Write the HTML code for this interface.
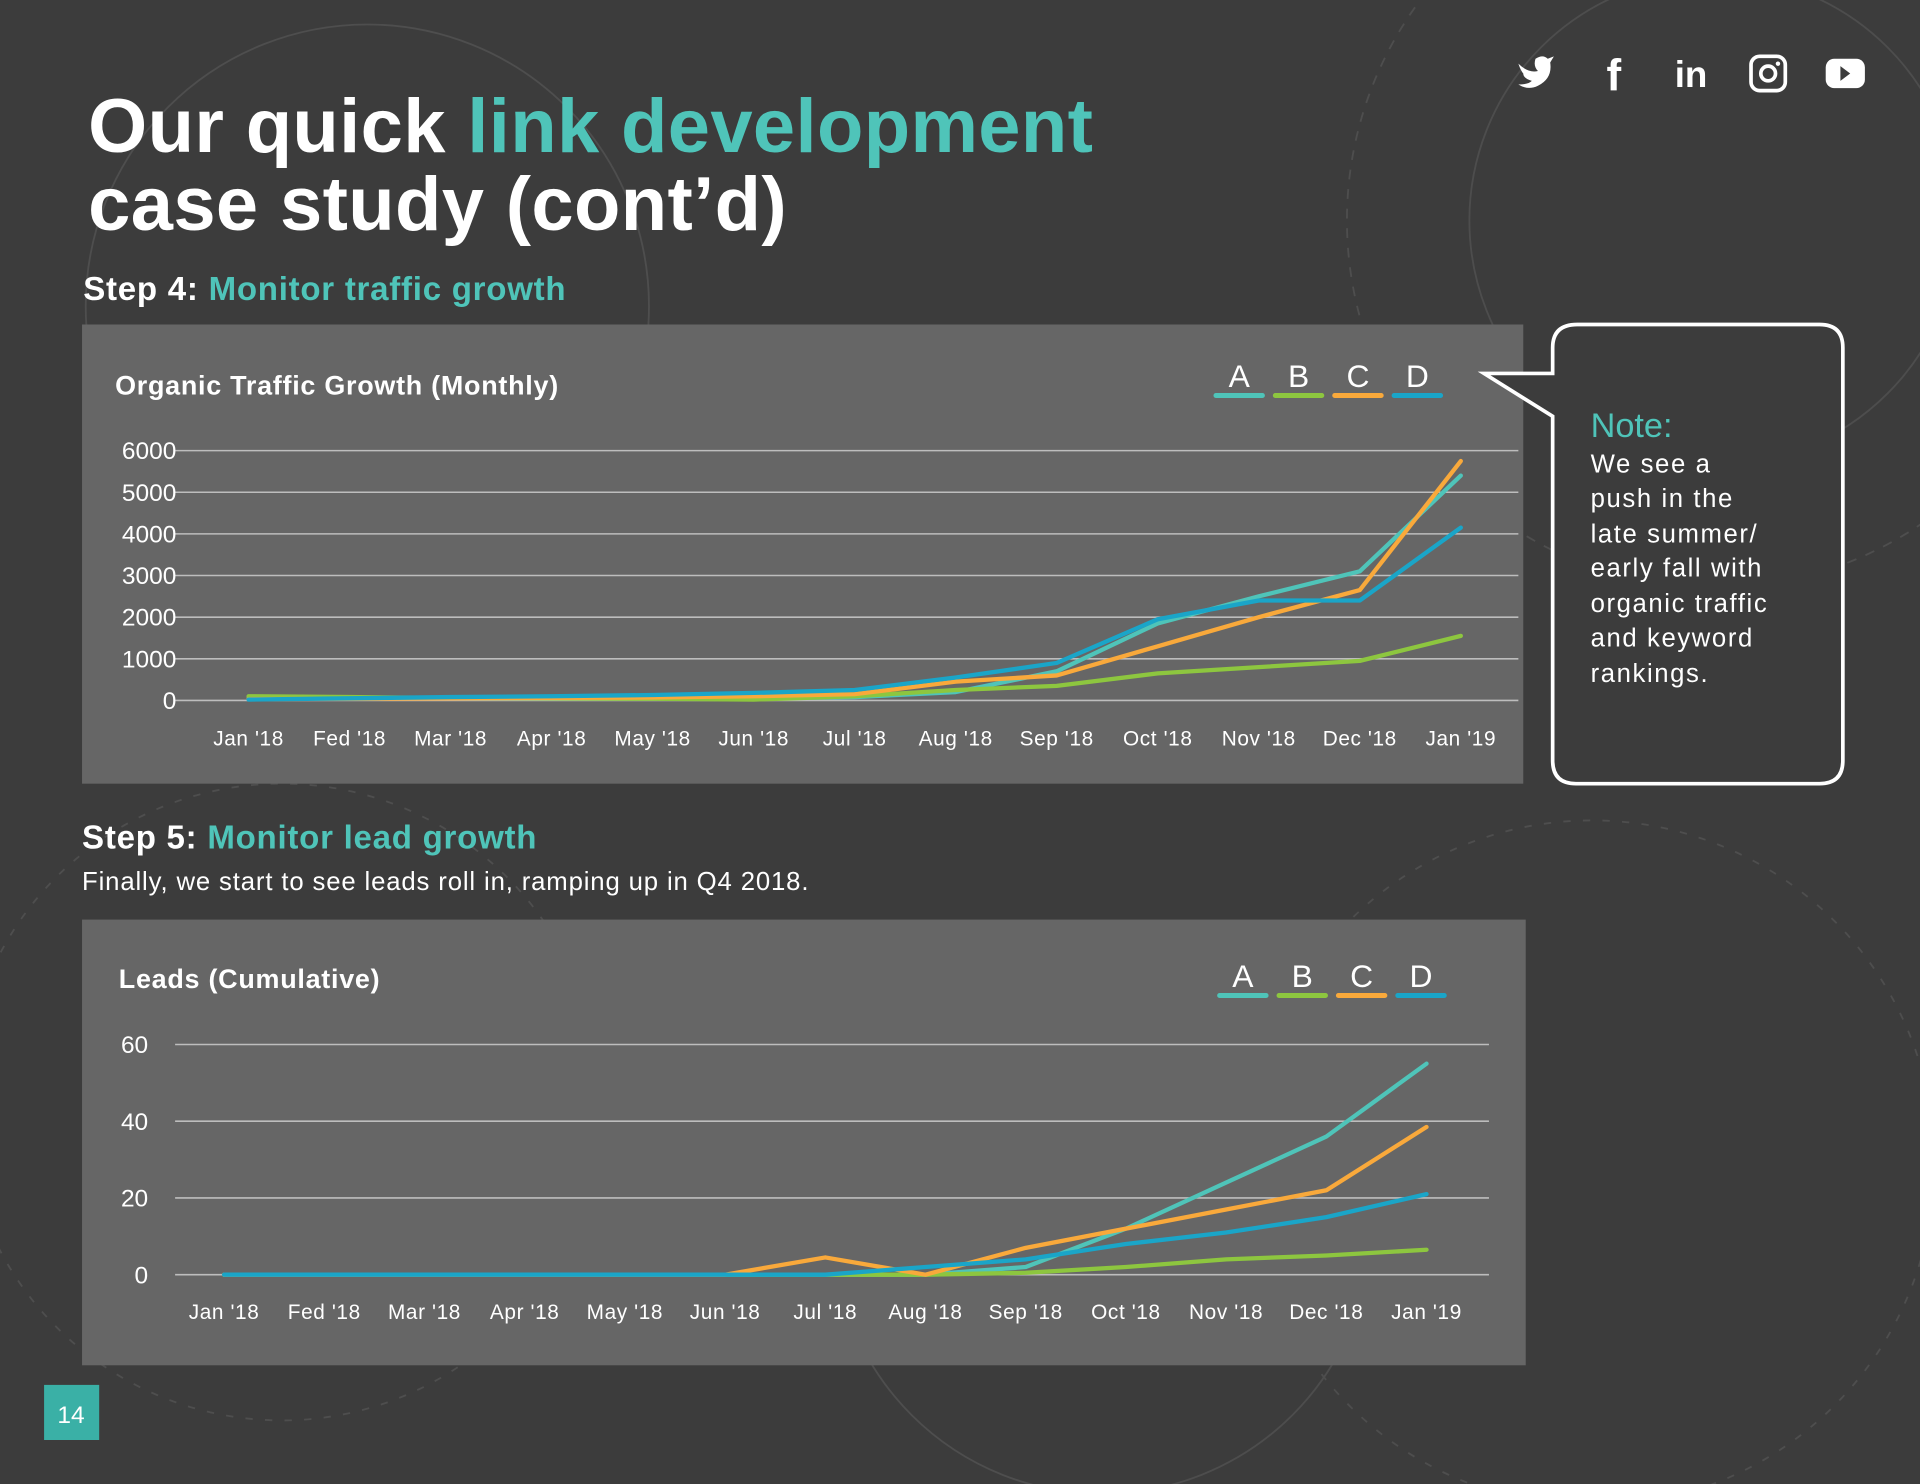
<!DOCTYPE html>
<html><head><meta charset="utf-8">
<style>
html,body{margin:0;padding:0;width:1920px;height:1484px;overflow:hidden;background:#3c3c3c}
#stage{position:absolute;left:0;top:0;width:1568px;height:1212px;transform:scale(1.22449);transform-origin:0 0;font-family:"Liberation Sans",sans-serif;color:#fff}
.t{position:absolute;white-space:nowrap}
.teal{color:#4fc4b9}
</style></head><body>
<div id="stage">
<svg width="1568" height="1212" style="position:absolute;left:0;top:0">
 <g fill="none" stroke="#555" stroke-width="1.5" opacity="0.7">
  <circle cx="1400" cy="180" r="300" stroke-dasharray="8 8"/>
  <circle cx="1400" cy="180" r="200"/>
  <circle cx="230" cy="900" r="260" stroke-dasharray="6 10"/>
  <circle cx="900" cy="1000" r="220"/>
  <circle cx="1300" cy="950" r="280" stroke-dasharray="6 10"/>
  <circle cx="300" cy="250" r="230"/>
 </g>
</svg>
<div class="t" style="left:72px;top:72px;font-size:62px;font-weight:bold;line-height:64px;letter-spacing:0.3px">Our quick <span class="teal">link development</span><br>case study (cont’d)</div>
<div class="t" style="left:68px;top:221px;font-size:27px;font-weight:bold;letter-spacing:0.6px">Step 4: <span class="teal">Monitor traffic growth</span></div>
<div class="t" style="left:67px;top:669px;font-size:27px;font-weight:bold;letter-spacing:0.6px">Step 5: <span class="teal">Monitor lead growth</span></div>
<div class="t" style="left:67px;top:709px;font-size:21px;letter-spacing:0.7px">Finally, we start to see leads roll in, ramping up in Q4 2018.</div>

<svg width="1568" height="1212" style="position:absolute;left:0;top:0" id="charts">
 <rect x="67" y="265" width="1177" height="375" fill="#666"/>
 <rect x="67" y="751" width="1179" height="364" fill="#666"/>
 <text x="94" y="322" font-size="22" font-weight="bold" fill="#fff" letter-spacing="0.6">Organic Traffic Growth (Monthly)</text>
 <text x="97" y="807" font-size="22" font-weight="bold" fill="#fff" letter-spacing="0.6">Leads (Cumulative)</text>
 <g id="c1"></g><g id="c2"></g>
 <path d="M1288 265 H1486 Q1505 265 1505 284 V621 Q1505 640 1486 640 H1287 Q1268 640 1268 621 V340 L1212 305 L1268 305 V284 Q1268 265 1288 265 Z" fill="#3c3c3c" stroke="#fff" stroke-width="3"/>
 <text x="1299" y="357" font-size="28" fill="#4fc4b9">Note:</text>
 <g font-size="21" fill="#fff" letter-spacing="1.3">
  <text x="1299" y="386">We see a</text><text x="1299" y="414">push in the</text><text x="1299" y="443">late summer/</text><text x="1299" y="471">early fall with</text><text x="1299" y="500">organic traffic</text><text x="1299" y="528">and keyword</text><text x="1299" y="557">rankings.</text>
 </g>
 <rect x="36" y="1131" width="45" height="45" fill="#3ab0a6"/>
 <text x="58" y="1162" font-size="20" fill="#fff" text-anchor="middle">14</text>
 <g fill="#fff">
  <path d="M1240 52 Q1248 60 1256 58 Q1252 54 1254 48 Q1260 44 1264 48 L1269 46 L1266 51 Q1268 64 1256 70 Q1248 74 1240 69 Q1248 69 1251 66 Q1244 64 1244 60 Q1242 58 1240 52Z"/>
  <text x="1318" y="74" font-size="36" font-weight="bold" text-anchor="middle">f</text>
  <text x="1381" y="71" font-size="30" font-weight="bold" text-anchor="middle">in</text>
  <g><rect x="1430" y="46" width="28" height="28" rx="7" fill="none" stroke="#fff" stroke-width="3"/><circle cx="1444" cy="60" r="6" fill="none" stroke="#fff" stroke-width="3"/><circle cx="1452" cy="52" r="1.8"/></g>
  <g><rect x="1491" y="48" width="32" height="24" rx="7"/><path d="M1503 54 L1511 60 L1503 66Z" fill="#3c3c3c"/></g>
 </g>
</svg>
</div>
<script>
const months = ["Jan '18","Fed '18","Mar '18","Apr '18","May '18","Jun '18","Jul '18","Aug '18","Sep '18","Oct '18","Nov '18","Dec '18","Jan '19"];
const trafficTicks = [0,1000,2000,3000,4000,5000,6000];
const trafficA = [50,50,50,50,50,50,80,200,700,1850,2500,3100,5400];
const trafficB = [100,80,60,50,40,20,100,250,350,650,800,950,1550];
const trafficC = [30,40,50,60,70,100,150,450,600,1300,2000,2650,5750];
const trafficD = [20,50,80,100,130,180,250,550,900,1950,2400,2400,4150];
const leadTicks = [0,20,40,60];
const leadsA = [0,0,0,0,0,0,0,0,2,12,24,36,55];
const leadsB = [0,0,0,0,0,0,0,0,0.5,2,4,5,6.5];
const leadsC = [0,0,0,0,0,0,4.5,0,7,12,17,22,38.5];
const leadsD = [0,0,0,0,0,0,0,2,4,8,11,15,21];
const seriesNames = ["A","B","C","D"];
const colors = ["#4fc4b9","#8dc63f","#f9a93b","#1aa5c8"];
const NS="http://www.w3.org/2000/svg";
function mk(tag,attrs,parent){const e=document.createElementNS(NS,tag);for(const k in attrs)e.setAttribute(k,attrs[k]);parent.appendChild(e);return e;}
function chart(g,cfg){
  const x=i=>cfg.x0+i*(cfg.x1-cfg.x0)/(months.length-1);
  const y=v=>cfg.y0-(v/cfg.max)*(cfg.y0-cfg.yTop);
  cfg.ticks.forEach(t=>{
    const l=mk('line',{x1:cfg.gx0,x2:cfg.gx1,y1:y(t),y2:y(t),stroke:'#bdbdbd','stroke-width':1.3},g);
    
    
    const tx=mk('text',{x:cfg.tickX,y:y(t)+7,'font-size':20,fill:'#fff','text-anchor':'end'},g);
    tx.textContent=t;
    
    
  });
  months.forEach((m,i)=>{
    const tx=mk('text',{x:x(i),y:cfg.labY,'font-size':17,fill:'#fff','text-anchor':'middle','letter-spacing':0.5},g);
    tx.textContent=m;
    
    
  });
  cfg.series.forEach((s,k)=>{
    const p=mk('polyline',{points:s.map((v,i)=>x(i)+','+y(v)).join(' '),fill:'none',stroke:colors[k],'stroke-width':3.5,'stroke-linejoin':'round','stroke-linecap':'round'},g);
    
    
  });
  seriesNames.forEach((n,k)=>{
    const lx=cfg.legX+k*48.5;
    const tx=mk('text',{x:lx,y:cfg.legY,'font-size':26,fill:'#fff','text-anchor':'middle'},g);
    tx.textContent=n;
    
    
    const r=mk('rect',{x:lx-21,y:cfg.legY+5,width:42,height:4,rx:2,fill:colors[k]},g);
    
    
  });
}
chart(document.getElementById('c1'),{x0:203,x1:1193,y0:572,yTop:368,max:6000,ticks:trafficTicks,gx0:143,gx1:1240,tickX:144,labY:609,legX:1012,legY:316,series:[trafficA,trafficB,trafficC,trafficD]});
chart(document.getElementById('c2'),{x0:183,x1:1165,y0:1041,yTop:853,max:60,ticks:leadTicks,gx0:143,gx1:1216,tickX:121,labY:1077,legX:1015,legY:806,series:[leadsA,leadsB,leadsC,leadsD]});
</script>
</body></html>
